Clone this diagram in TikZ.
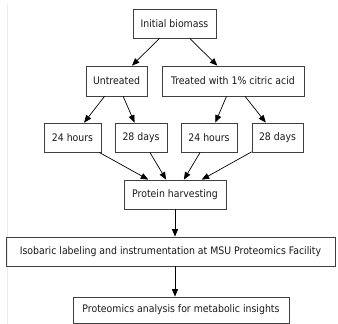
\documentclass[tikz,border=0pt]{standalone}
\usepackage{fontspec}
\setmainfont{DejaVu Sans Condensed}
\usetikzlibrary{arrows.meta}
\begin{document}
\begin{tikzpicture}[x=1pt,y=-1pt,
  box/.style={draw=black!75, line width=0.75pt, inner sep=0pt, minimum height=29pt,
    font=\fontsize{10.4}{12}\selectfont, text=black!90},
  arr/.style={-{Triangle[length=7.5pt,width=6pt]}, line width=0.7pt, black}]
\useasboundingbox (0,0) rectangle (338,324);
\draw[black!8, line width=1pt] (7.5,4) -- (7.5,324);
\node[box, minimum width=83pt] (init) at (174.5,23.5) {Initial biomass};
\node[box, minimum width=61pt, minimum height=30pt] (untr) at (116.5,81) {Untreated};
\node[box, minimum width=142pt, minimum height=30pt] (trt) at (233,81) {Treated with 1\% citric acid};
\node[box, minimum width=57pt] (ua) at (72.5,137.5) {24 hours};
\node[box, minimum width=52pt] (ub) at (141,137.5) {28 days};
\node[box, minimum width=56pt] (ta) at (209,137.5) {24 hours};
\node[box, minimum width=51pt] (tb) at (277.5,137.5) {28 days};
\node[box, minimum width=102pt] (prot) at (175,194.5) {Protein harvesting};
\node[box, minimum width=329pt] (iso) at (170.5,251.5) {Isobaric labeling and instrumentation at MSU Proteomics Facility};
\node[box, minimum width=216pt, minimum height=26pt] (ana) at (181,310) {Proteomics analysis for metabolic insights};
\draw[arr] (init) -- (untr);
\draw[arr] (init) -- (trt);
\draw[arr] (untr) -- (ua);
\draw[arr] (untr) -- (ub);
\draw[arr] (trt) -- (ta);
\draw[arr] (trt) -- (tb);
\draw[arr] (ua) -- (prot);
\draw[arr] (ub) -- (prot);
\draw[arr] (ta) -- (prot);
\draw[arr] (tb) -- (prot);
\draw[arr] (prot.south) -- (prot.south |- iso.north);
\draw[arr] (prot.south |- iso.south) -- (prot.south |- ana.north);
\end{tikzpicture}
\end{document}
